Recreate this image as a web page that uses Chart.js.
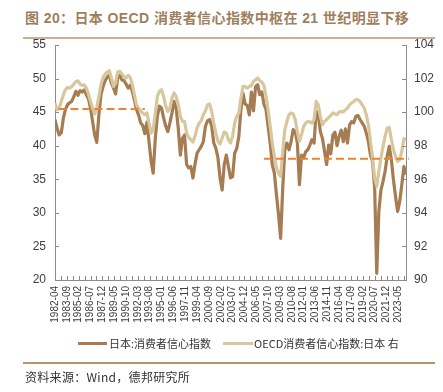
<!DOCTYPE html>
<html><head><meta charset="utf-8">
<script src="https://cdn.jsdelivr.net/npm/chart.js@4.4.1/dist/chart.umd.min.js"></script>
<style>
html,body{margin:0;padding:0;background:#fff;width:443px;height:392px;overflow:hidden;}
#wrap{position:relative;width:443px;height:392px;}
canvas{position:absolute;left:0;top:0;}
.title{position:absolute;left:25px;top:7px;font:bold 14px "Liberation Sans","Noto Sans CJK SC",sans-serif;color:#9e7f5c;white-space:nowrap;letter-spacing:0.4px;}
.rule{position:absolute;left:23px;width:412px;height:2px;}
.lg{position:absolute;top:336px;font:11px "Noto Sans CJK SC",sans-serif;color:#333;white-space:nowrap;line-height:14px;}
.sw{position:absolute;height:3px;top:342px;}
.src{position:absolute;left:25px;top:369px;font:12px "Noto Sans CJK SC",sans-serif;color:#333;white-space:nowrap;line-height:15px;letter-spacing:0.3px;}
</style></head>
<body><div id="wrap">
<div class="title">图 20：日本 OECD 消费者信心指数中枢在 21 世纪明显下移</div>
<div class="rule" style="top:37px;background:#cbb08f;"></div>
<canvas id="c" width="443" height="392"></canvas>
<div class="sw" style="left:78px;width:29px;background:#a67c52;"></div>
<div class="lg" style="left:109px;">日本:消费者信心指数</div>
<div class="sw" style="left:223px;width:30px;background:#d8c79c;"></div>
<div class="lg" style="left:254px;">OECD消费者信心指数:日本 右</div>
<div class="rule" style="top:362px;background:#b8946e;"></div>
<div class="src">资料来源：Wind，德邦研究所</div>
</div>
<script>
// quarterly readings, starting 1982-04, every 3 months
const startMonth = '1982-04';
const stepMonths = 3;
const japanCCI = [
43.9,42.6,41.6,41.9,44.1,45.4,46.1,46.4,46.6,47.3,48.1,47.5,48.2,48.0,48.3,47.6,47.0,45.6,43.6,41.6,
40.5,44.6,47.6,48.8,49.7,50.2,50.5,49.3,48.6,47.7,50.1,50.5,49.8,49.7,49.2,48.6,49.0,48.1,46.8,45.4,
44.6,43.4,43.0,41.8,43.5,40.6,37.7,35.9,41.1,44.4,45.9,45.6,44.1,42.9,42.1,43.4,44.9,46.6,45.6,42.6,
38.6,41.1,41.6,37.2,36.7,36.9,35.2,37.2,38.9,39.4,39.9,40.6,42.9,43.7,43.9,42.9,40.4,39.6,38.2,35.2,
33.4,37.2,38.6,36.9,35.2,35.4,38.9,39.6,41.4,45.4,47.8,46.2,46.0,44.6,48.0,45.2,48.8,49.1,47.6,48.0,
46.2,45.4,42.9,40.4,37.2,35.9,32.7,29.7,26.2,33.7,39.4,40.4,39.4,40.6,42.4,42.1,40.4,34.2,38.6,38.2,
39.1,39.4,40.1,40.9,40.4,45.1,44.7,42.1,41.1,39.2,37.2,40.1,38.8,41.6,42.0,40.0,41.4,42.3,40.6,42.5,
40.4,43.1,43.6,43.4,44.4,44.5,43.9,43.4,42.9,41.9,40.6,38.6,37.7,33.7,21.0,30.2,33.4,34.7,36.2,38.4,
39.9,37.9,34.9,32.4,30.2,31.7,34.2,36.9,35.7
];
const oecdCCI = [
100.54,100.14,100.24,100.64,101.04,101.34,101.47,101.43,101.53,101.67,101.83,101.87,101.67,101.59,101.63,101.43,101.08,100.64,100.24,99.89,
100.24,100.94,101.63,102.07,102.27,102.39,102.47,102.03,101.53,101.73,102.39,102.43,102.27,102.13,102.03,102.19,102.07,101.63,101.04,100.44,
100.24,100.08,99.95,99.85,99.95,99.35,98.75,98.95,99.95,100.94,101.24,101.34,100.94,100.34,100.04,100.24,100.84,101.14,100.94,100.44,
99.75,99.45,99.45,98.75,98.5,98.36,98.22,98.56,99.05,99.35,99.49,99.85,100.08,100.44,100.48,100.04,99.35,98.75,98.26,98.1,
98.46,98.81,98.75,98.36,98.16,98.56,99.35,99.75,99.95,100.84,101.53,101.53,101.43,101.53,101.59,101.83,101.93,102.03,101.87,101.79,
101.59,100.94,100.14,99.15,98.16,97.37,96.67,96.37,96.17,97.66,98.95,99.45,99.85,99.95,99.89,99.55,98.85,98.26,98.66,99.15,
99.35,99.45,99.41,99.35,99.55,100.64,100.44,99.75,99.25,99.45,99.55,99.69,99.81,99.95,99.89,99.85,100.01,100.04,100.01,100.14,
100.24,100.44,100.54,100.64,100.74,100.74,100.64,100.44,100.24,99.85,99.25,98.26,97.27,96.07,95.58,96.47,97.27,97.96,98.56,99.05,
99.09,98.36,97.76,97.37,97.07,97.17,97.66,98.42,98.36
];
const tickLabels = ['1982-04','1983-09','1985-02','1986-07','1987-12','1989-05','1990-10','1992-03','1993-08','1995-01',
'1996-06','1997-11','1999-04','2000-09','2002-02','2003-07','2004-12','2006-05','2007-10','2009-03',
'2010-08','2012-01','2013-06','2014-11','2016-04','2017-09','2019-02','2020-07','2021-12','2023-05'];
const labelEveryMonths = 17;
// average levels (left axis) and their spans in months since start
const avgEarly = 45.45, avgEarlySpan = [5, 129];
const avgLate = 38.05, avgLateSpan = [300, 508];
const xMaxMonths = 504;

const toXY = arr => arr.map((v,i)=>({x:i*stepMonths,y:v}));
const axisColor = '#8c8c8c';
const innerTicks = {id:'innerTicks', afterDatasetsDraw(chart){
  const {ctx, chartArea:a, scales:{x,y,y1}} = chart;
  ctx.save(); ctx.strokeStyle=axisColor; ctx.lineWidth=1; ctx.beginPath();
  x.ticks.forEach(t=>{const px=Math.round(x.getPixelForValue(t.value))+0.5; ctx.moveTo(px,a.bottom); ctx.lineTo(px,a.bottom-4);});
  y.ticks.forEach(t=>{const py=Math.round(y.getPixelForValue(t.value))+0.5; ctx.moveTo(a.left,py); ctx.lineTo(a.left+4,py);});
  y1.ticks.forEach(t=>{const py=Math.round(y1.getPixelForValue(t.value))+0.5; ctx.moveTo(a.right,py); ctx.lineTo(a.right-4,py);});
  ctx.stroke(); ctx.restore();
}};
const tickFont = {family:'"Liberation Sans", Arial, sans-serif', size:12};
new Chart(document.getElementById('c'), {
  type:'line',
  data:{datasets:[
    {label:'日本:消费者信心指数', data:toXY(japanCCI), yAxisID:'y', borderColor:'#a67c52', borderWidth:3.2, order:2},
    {label:'OECD消费者信心指数:日本', data:toXY(oecdCCI), yAxisID:'y1', borderColor:'#d8c79c', borderWidth:3.2, order:1},
    {data:[{x:avgEarlySpan[0],y:avgEarly},{x:avgEarlySpan[1],y:avgEarly}], yAxisID:'y', borderColor:'#f0822f', borderWidth:2, borderDash:[8,4], order:0},
    {data:[{x:avgLateSpan[0],y:avgLate},{x:avgLateSpan[1],y:avgLate}], yAxisID:'y', borderColor:'#f0822f', borderWidth:2, borderDash:[8,4], order:0, clip:false}
  ]},
  options:{
    responsive:false, animation:false, devicePixelRatio:1,
    layout:{padding:{left:0,right:0,top:45,bottom:62}},
    plugins:{legend:{display:false}, tooltip:{enabled:false}},
    elements:{point:{radius:0}, line:{tension:0, borderJoinStyle:'round', borderCapStyle:'butt'}},
    scales:{
      x:{type:'linear', min:0, max:xMaxMonths,
        afterBuildTicks:s=>{const t=[]; for(let k=0;k*labelEveryMonths/2<=xMaxMonths;k++) t.push({value:k*labelEveryMonths/2}); s.ticks=t;},
        ticks:{autoSkip:false, minRotation:90, maxRotation:90, padding:6, font:{family:tickFont.family,size:10}, color:'#404040',
          callback:(v,i)=> i%2===0 ? (tickLabels[i/2]||'') : ''},
        grid:{display:false, drawTicks:false}, border:{display:true, color:axisColor, width:1},
        afterFit:s=>{s.height=50;}},
      y:{position:'left', min:20, max:55, ticks:{stepSize:5, padding:9, font:tickFont, color:'#404040'},
        grid:{display:false, drawTicks:false}, border:{display:true, color:axisColor, width:1},
        afterFit:s=>{s.width=55;}},
      y1:{position:'right', min:90, max:104, ticks:{stepSize:2, padding:8, font:tickFont, color:'#404040'},
        grid:{display:false, drawTicks:false}, border:{display:true, color:axisColor, width:1},
        afterFit:s=>{s.width=37;}}
    }
  },
  plugins:[innerTicks]
});
</script>
</body></html>
